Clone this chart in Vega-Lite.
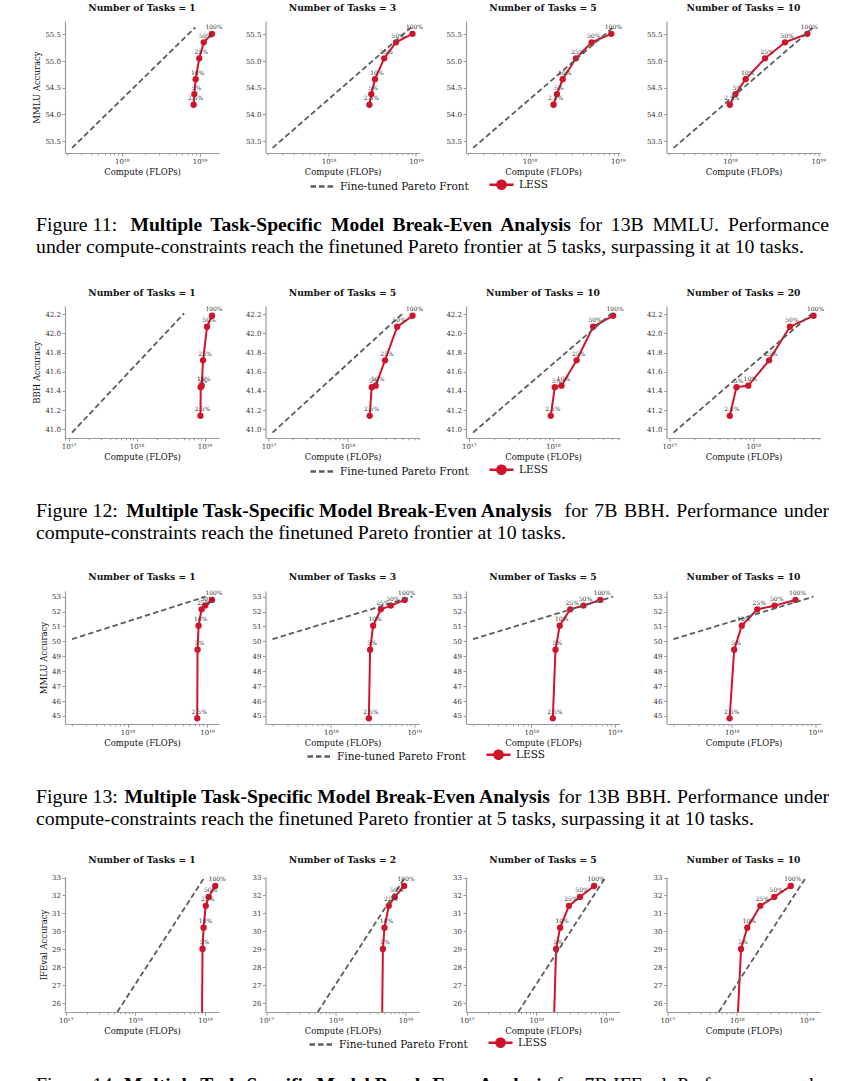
{
"$schema": "https://vega.github.io/schema/vega-lite/v6.json",
"background": "white",
"padding": {"left": 32, "top": 3, "right": 0, "bottom": 0},
"config": {
  "view": {"stroke": null},
  "font": "DejaVu Serif",
  "axis": {"grid": false, "domainColor": "#9a9a9a", "domainWidth": 1.2, "tickColor": "#9a9a9a", "tickWidth": 1, "tickSize": 3, "labelColor": "#333333", "labelFont": "DejaVu Serif", "labelFontSize": 7, "labelPadding": 1.5, "titleFont": "DejaVu Serif", "titleFontSize": 8.5, "titleFontWeight": "normal", "titleColor": "#111111", "titlePadding": 3},
  "title": {"font": "DejaVu Serif", "fontSize": 9.2, "fontWeight": "bold", "color": "#111111", "offset": 8, "baseline": "bottom", "anchor": "middle"}
},
"columns": 4,
"spacing": {"row": 153, "column": 46.5},
"bounds": "flush",
"resolve": {"scale": {"color": "independent", "strokeDash": "independent"}},
"concat": [
  {"width": 154, "height": 132, "title": "Number of Tasks = 1",
   "layer": [
    {"data": {"values": [
      {"series": "LESS", "pct": 2.5, "label": "2.5%", "compute": 8.39e18, "acc": 54.18},
      {"series": "LESS", "pct": 5, "label": "5%", "compute": 8.57e18, "acc": 54.38},
      {"series": "LESS", "pct": 10, "label": "10%", "compute": 8.91e18, "acc": 54.66},
      {"series": "LESS", "pct": 25, "label": "25%", "compute": 9.91e18, "acc": 55.05},
      {"series": "LESS", "pct": 50, "label": "50%", "compute": 1.132e19, "acc": 55.35},
      {"series": "LESS", "pct": 100, "label": "100%", "compute": 1.445e19, "acc": 55.51},
      {"series": "Fine-tuned Pareto Front", "compute": 2.291e17, "acc": 53.37},
      {"series": "Fine-tuned Pareto Front", "compute": 8.81e18, "acc": 55.63}]},
     "encoding": {
      "x": {"field": "compute", "type": "quantitative", "scale": {"type": "log", "domain": [1.862e17, 1.778e19], "nice": false}, "axis": {"title": "Compute (FLOPs)", "values": [2e17,3e17,4e17,5e17,6e17,7e17,8e17,9e17,1e18,2e18,3e18,4e18,5e18,6e18,7e18,8e18,9e18,1e19], "labelExpr": "datum.value == 1e17 ? '10¹⁷' : datum.value == 1e18 ? '10¹⁸' : datum.value == 1e19 ? '10¹⁹' : ''", "labelOverlap": false, "labelFlush": false, "tickSize": {"condition": {"test": "datum.value == 1e17 || datum.value == 1e18 || datum.value == 1e19", "value": 3.2}, "value": 1.8}}},
      "y": {"field": "acc", "type": "quantitative", "scale": {"domain": [53.275, 55.75], "nice": false, "zero": false}, "axis": {"title": "MMLU Accuracy", "values": [53.5, 54, 54.5, 55, 55.5], "format": ".1f"}}
     },
     "layer": [
      {"transform": [{"filter": "datum.series == 'LESS'"}], "mark": {"type": "line", "strokeWidth": 2, "clip": true}, "encoding": {"order": {"field": "pct", "type": "quantitative"}, "color": {"field": "series", "type": "nominal", "scale": {"domain": ["Fine-tuned Pareto Front", "LESS"], "range": ["#5c5c5c", "#d0142b"]}, "legend": {"orient": "none", "legendX": 244, "legendY": 150, "direction": "horizontal", "title": null, "labelFont": "DejaVu Serif", "labelFontSize": 10.5, "labelColor": "#111111", "symbolSize": 576, "symbolStrokeWidth": 2.5, "columnPadding": 15, "labelOffset": 4, "padding": 0, "encode": {"symbols": {"update": {"shape": {"signal": "datum.value == 'LESS' ? 'M-1,0H1M0.34,0A0.34,0.34,0,1,1,-0.34,0A0.34,0.34,0,1,1,0.34,0Z' : 'M-1,0H1'"}, "fill": {"signal": "datum.value == 'LESS' ? '#d0142b' : 'transparent'"}, "stroke": {"signal": "datum.value == 'LESS' ? '#d0142b' : '#222222'"}, "strokeDash": {"signal": "datum.value == 'LESS' ? [1,0] : [10,4]"}}}}}}, "strokeDash": {"field": "series", "type": "nominal", "scale": {"domain": ["Fine-tuned Pareto Front", "LESS"], "range": [[5.5, 3], [1, 0]]}, "legend": null}}},
      {"transform": [{"filter": "datum.series == 'LESS'"}], "mark": {"type": "circle", "size": 40, "opacity": 1, "color": "#d0142b", "clip": true}},
      {"transform": [{"filter": "datum.series != 'LESS'"}], "mark": {"type": "line", "strokeWidth": 1.8, "clip": true}, "encoding": {"color": {"field": "series", "type": "nominal", "scale": {"domain": ["Fine-tuned Pareto Front", "LESS"], "range": ["#5c5c5c", "#d0142b"]}}, "strokeDash": {"field": "series", "type": "nominal", "scale": {"domain": ["Fine-tuned Pareto Front", "LESS"], "range": [[5.5, 3], [1, 0]]}, "legend": null}}},
      {"transform": [{"filter": "datum.series == 'LESS'"}], "mark": {"type": "text", "fontSize": 6, "font": "DejaVu Serif", "color": "#333333", "dx": 2, "dy": -6.5}, "encoding": {"text": {"field": "label"}}}
     ]},
    {"data": {"values": [
      {"line": 1, "seg": "a", "text": "Figure 11:"},
      {"line": 1, "seg": "b1", "text": "Multiple"},
      {"line": 1, "seg": "b2", "text": "Task-Specific"},
      {"line": 1, "seg": "b3", "text": "Model"},
      {"line": 1, "seg": "b4", "text": "Break-Even"},
      {"line": 1, "seg": "b5", "text": "Analysis"},
      {"line": 1, "seg": "c1", "text": "for"},
      {"line": 1, "seg": "c2", "text": "13B"},
      {"line": 1, "seg": "c3", "text": "MMLU."},
      {"line": 1, "seg": "c4", "text": "Performance"},
      {"line": 2, "seg": "a", "text": "under compute-constraints reach the finetuned Pareto frontier at 5 tasks, surpassing it at 10 tasks."}]},
     "encoding": {"y": {"field": "line", "type": "ordinal", "axis": null, "scale": {"domain": [1, 2], "range": [204, 226], "padding": 0}}, "text": {"field": "text"}},
     "layer": [
      {"transform": [{"filter": "datum.seg == 'a'"}], "mark": {"type": "text", "align": "left", "baseline": "middle", "font": "Liberation Serif", "fontSize": 19.8, "color": "#000000", "dx": -106}},
      {"transform": [{"filter": "datum.seg == 'b1'"}], "mark": {"type": "text", "align": "left", "baseline": "middle", "font": "Liberation Serif", "fontSize": 19.6, "fontWeight": "bold", "color": "#000000", "dx": -11.6}},
      {"transform": [{"filter": "datum.seg == 'b2'"}], "mark": {"type": "text", "align": "left", "baseline": "middle", "font": "Liberation Serif", "fontSize": 19.6, "fontWeight": "bold", "color": "#000000", "dx": 68.2}},
      {"transform": [{"filter": "datum.seg == 'b3'"}], "mark": {"type": "text", "align": "left", "baseline": "middle", "font": "Liberation Serif", "fontSize": 19.6, "fontWeight": "bold", "color": "#000000", "dx": 188.9}},
      {"transform": [{"filter": "datum.seg == 'b4'"}], "mark": {"type": "text", "align": "left", "baseline": "middle", "font": "Liberation Serif", "fontSize": 19.6, "fontWeight": "bold", "color": "#000000", "dx": 250.4}},
      {"transform": [{"filter": "datum.seg == 'b5'"}], "mark": {"type": "text", "align": "left", "baseline": "middle", "font": "Liberation Serif", "fontSize": 19.6, "fontWeight": "bold", "color": "#000000", "dx": 358.2}},
      {"transform": [{"filter": "datum.seg == 'c1'"}], "mark": {"type": "text", "align": "left", "baseline": "middle", "font": "Liberation Serif", "fontSize": 19.8, "color": "#000000", "dx": 437}},
      {"transform": [{"filter": "datum.seg == 'c2'"}], "mark": {"type": "text", "align": "left", "baseline": "middle", "font": "Liberation Serif", "fontSize": 19.8, "color": "#000000", "dx": 468.8}},
      {"transform": [{"filter": "datum.seg == 'c3'"}], "mark": {"type": "text", "align": "left", "baseline": "middle", "font": "Liberation Serif", "fontSize": 19.8, "color": "#000000", "dx": 510.5}},
      {"transform": [{"filter": "datum.seg == 'c4'"}], "mark": {"type": "text", "align": "right", "baseline": "middle", "font": "Liberation Serif", "fontSize": 19.8, "color": "#000000", "dx": 687}}
     ]}
   ],
   "resolve": {"scale": {"y": "independent"}, "axis": {"y": "independent"}}},
  {"width": 154, "height": 132, "title": "Number of Tasks = 3",
   "data": {"values": [
    {"series": "LESS", "pct": 2.5, "label": "2.5%", "compute": 2.94e18, "acc": 54.18},
    {"series": "LESS", "pct": 5, "label": "5%", "compute": 3.09e18, "acc": 54.38},
    {"series": "LESS", "pct": 10, "label": "10%", "compute": 3.40e18, "acc": 54.66},
    {"series": "LESS", "pct": 25, "label": "25%", "compute": 4.34e18, "acc": 55.05},
    {"series": "LESS", "pct": 50, "label": "50%", "compute": 5.92e18, "acc": 55.35},
    {"series": "LESS", "pct": 100, "label": "100%", "compute": 9.14e18, "acc": 55.51},
    {"series": "Fine-tuned Pareto Front", "compute": 2.291e17, "acc": 53.37},
    {"series": "Fine-tuned Pareto Front", "compute": 8.81e18, "acc": 55.63}]},
   "encoding": {
    "x": {"field": "compute", "type": "quantitative", "scale": {"type": "log", "domain": [1.905e17, 1.099e19], "nice": false}, "axis": {"title": "Compute (FLOPs)", "values": [2e17,3e17,4e17,5e17,6e17,7e17,8e17,9e17,1e18,2e18,3e18,4e18,5e18,6e18,7e18,8e18,9e18,1e19], "labelExpr": "datum.value == 1e17 ? '10¹⁷' : datum.value == 1e18 ? '10¹⁸' : datum.value == 1e19 ? '10¹⁹' : ''", "labelOverlap": false, "labelFlush": false, "tickSize": {"condition": {"test": "datum.value == 1e17 || datum.value == 1e18 || datum.value == 1e19", "value": 3.2}, "value": 1.8}}},
    "y": {"field": "acc", "type": "quantitative", "scale": {"domain": [53.275, 55.75], "nice": false, "zero": false}, "axis": {"title": null, "values": [53.5, 54, 54.5, 55, 55.5], "format": ".1f"}}
   },
   "layer": [
    {"transform": [{"filter": "datum.series == 'LESS'"}], "mark": {"type": "line", "strokeWidth": 2, "clip": true}, "encoding": {"order": {"field": "pct", "type": "quantitative"}, "color": {"field": "series", "type": "nominal", "scale": {"domain": ["Fine-tuned Pareto Front", "LESS"], "range": ["#5c5c5c", "#d0142b"]}, "legend": null}, "strokeDash": {"field": "series", "type": "nominal", "scale": {"domain": ["Fine-tuned Pareto Front", "LESS"], "range": [[5.5, 3], [1, 0]]}, "legend": null}}},
    {"transform": [{"filter": "datum.series == 'LESS'"}], "mark": {"type": "circle", "size": 40, "opacity": 1, "color": "#d0142b", "clip": true}},
    {"transform": [{"filter": "datum.series != 'LESS'"}], "mark": {"type": "line", "strokeWidth": 1.8, "clip": true}, "encoding": {"color": {"field": "series", "type": "nominal", "scale": {"domain": ["Fine-tuned Pareto Front", "LESS"], "range": ["#5c5c5c", "#d0142b"]}, "legend": null}, "strokeDash": {"field": "series", "type": "nominal", "scale": {"domain": ["Fine-tuned Pareto Front", "LESS"], "range": [[5.5, 3], [1, 0]]}, "legend": null}}},
    {"transform": [{"filter": "datum.series == 'LESS'"}], "mark": {"type": "text", "fontSize": 6, "font": "DejaVu Serif", "color": "#333333", "dx": 2, "dy": -6.5}, "encoding": {"text": {"field": "label"}}}
   ]},
  {"width": 154, "height": 132, "title": "Number of Tasks = 5",
   "data": {"values": [
    {"series": "LESS", "pct": 2.5, "label": "2.5%", "compute": 1.87e18, "acc": 54.18},
    {"series": "LESS", "pct": 5, "label": "5%", "compute": 2.04e18, "acc": 54.38},
    {"series": "LESS", "pct": 10, "label": "10%", "compute": 2.37e18, "acc": 54.66},
    {"series": "LESS", "pct": 25, "label": "25%", "compute": 3.35e18, "acc": 55.05},
    {"series": "LESS", "pct": 50, "label": "50%", "compute": 5.05e18, "acc": 55.35},
    {"series": "LESS", "pct": 100, "label": "100%", "compute": 8.43e18, "acc": 55.51},
    {"series": "Fine-tuned Pareto Front", "compute": 2.291e17, "acc": 53.37},
    {"series": "Fine-tuned Pareto Front", "compute": 8.81e18, "acc": 55.63}]},
   "encoding": {
    "x": {"field": "compute", "type": "quantitative", "scale": {"type": "log", "domain": [1.905e17, 1.057e19], "nice": false}, "axis": {"title": "Compute (FLOPs)", "values": [2e17,3e17,4e17,5e17,6e17,7e17,8e17,9e17,1e18,2e18,3e18,4e18,5e18,6e18,7e18,8e18,9e18,1e19], "labelExpr": "datum.value == 1e17 ? '10¹⁷' : datum.value == 1e18 ? '10¹⁸' : datum.value == 1e19 ? '10¹⁹' : ''", "labelOverlap": false, "labelFlush": false, "tickSize": {"condition": {"test": "datum.value == 1e17 || datum.value == 1e18 || datum.value == 1e19", "value": 3.2}, "value": 1.8}}},
    "y": {"field": "acc", "type": "quantitative", "scale": {"domain": [53.275, 55.75], "nice": false, "zero": false}, "axis": {"title": null, "values": [53.5, 54, 54.5, 55, 55.5], "format": ".1f"}}
   },
   "layer": [
    {"transform": [{"filter": "datum.series == 'LESS'"}], "mark": {"type": "line", "strokeWidth": 2, "clip": true}, "encoding": {"order": {"field": "pct", "type": "quantitative"}, "color": {"field": "series", "type": "nominal", "scale": {"domain": ["Fine-tuned Pareto Front", "LESS"], "range": ["#5c5c5c", "#d0142b"]}, "legend": null}, "strokeDash": {"field": "series", "type": "nominal", "scale": {"domain": ["Fine-tuned Pareto Front", "LESS"], "range": [[5.5, 3], [1, 0]]}, "legend": null}}},
    {"transform": [{"filter": "datum.series == 'LESS'"}], "mark": {"type": "circle", "size": 40, "opacity": 1, "color": "#d0142b", "clip": true}},
    {"transform": [{"filter": "datum.series != 'LESS'"}], "mark": {"type": "line", "strokeWidth": 1.8, "clip": true}, "encoding": {"color": {"field": "series", "type": "nominal", "scale": {"domain": ["Fine-tuned Pareto Front", "LESS"], "range": ["#5c5c5c", "#d0142b"]}, "legend": null}, "strokeDash": {"field": "series", "type": "nominal", "scale": {"domain": ["Fine-tuned Pareto Front", "LESS"], "range": [[5.5, 3], [1, 0]]}, "legend": null}}},
    {"transform": [{"filter": "datum.series == 'LESS'"}], "mark": {"type": "text", "fontSize": 6, "font": "DejaVu Serif", "color": "#333333", "dx": 2, "dy": -6.5}, "encoding": {"text": {"field": "label"}}}
   ]},
  {"width": 154, "height": 132, "title": "Number of Tasks = 10",
   "data": {"values": [
    {"series": "LESS", "pct": 2.5, "label": "2.5%", "compute": 9.93e17, "acc": 54.18},
    {"series": "LESS", "pct": 5, "label": "5%", "compute": 1.15e18, "acc": 54.38},
    {"series": "LESS", "pct": 10, "label": "10%", "compute": 1.50e18, "acc": 54.66},
    {"series": "LESS", "pct": 25, "label": "25%", "compute": 2.49e18, "acc": 55.05},
    {"series": "LESS", "pct": 50, "label": "50%", "compute": 4.19e18, "acc": 55.35},
    {"series": "LESS", "pct": 100, "label": "100%", "compute": 7.50e18, "acc": 55.51},
    {"series": "Fine-tuned Pareto Front", "compute": 2.291e17, "acc": 53.37},
    {"series": "Fine-tuned Pareto Front", "compute": 8.81e18, "acc": 55.63}]},
   "encoding": {
    "x": {"field": "compute", "type": "quantitative", "scale": {"type": "log", "domain": [1.905e17, 1.057e19], "nice": false}, "axis": {"title": "Compute (FLOPs)", "values": [2e17,3e17,4e17,5e17,6e17,7e17,8e17,9e17,1e18,2e18,3e18,4e18,5e18,6e18,7e18,8e18,9e18,1e19], "labelExpr": "datum.value == 1e17 ? '10¹⁷' : datum.value == 1e18 ? '10¹⁸' : datum.value == 1e19 ? '10¹⁹' : ''", "labelOverlap": false, "labelFlush": false, "tickSize": {"condition": {"test": "datum.value == 1e17 || datum.value == 1e18 || datum.value == 1e19", "value": 3.2}, "value": 1.8}}},
    "y": {"field": "acc", "type": "quantitative", "scale": {"domain": [53.275, 55.75], "nice": false, "zero": false}, "axis": {"title": null, "values": [53.5, 54, 54.5, 55, 55.5], "format": ".1f"}}
   },
   "layer": [
    {"transform": [{"filter": "datum.series == 'LESS'"}], "mark": {"type": "line", "strokeWidth": 2, "clip": true}, "encoding": {"order": {"field": "pct", "type": "quantitative"}, "color": {"field": "series", "type": "nominal", "scale": {"domain": ["Fine-tuned Pareto Front", "LESS"], "range": ["#5c5c5c", "#d0142b"]}, "legend": null}, "strokeDash": {"field": "series", "type": "nominal", "scale": {"domain": ["Fine-tuned Pareto Front", "LESS"], "range": [[5.5, 3], [1, 0]]}, "legend": null}}},
    {"transform": [{"filter": "datum.series == 'LESS'"}], "mark": {"type": "circle", "size": 40, "opacity": 1, "color": "#d0142b", "clip": true}},
    {"transform": [{"filter": "datum.series != 'LESS'"}], "mark": {"type": "line", "strokeWidth": 1.8, "clip": true}, "encoding": {"color": {"field": "series", "type": "nominal", "scale": {"domain": ["Fine-tuned Pareto Front", "LESS"], "range": ["#5c5c5c", "#d0142b"]}, "legend": null}, "strokeDash": {"field": "series", "type": "nominal", "scale": {"domain": ["Fine-tuned Pareto Front", "LESS"], "range": [[5.5, 3], [1, 0]]}, "legend": null}}},
    {"transform": [{"filter": "datum.series == 'LESS'"}], "mark": {"type": "text", "fontSize": 6, "font": "DejaVu Serif", "color": "#333333", "dx": 2, "dy": -6.5}, "encoding": {"text": {"field": "label"}}}
   ]},

  {"width": 154, "height": 132, "title": "Number of Tasks = 1",
   "layer": [
    {"data": {"values": [
      {"series": "LESS", "pct": 2.5, "label": "2.5%", "compute": 8.71e18, "acc": 41.14},
      {"series": "LESS", "pct": 5, "label": "5%", "compute": 8.79e18, "acc": 41.44},
      {"series": "LESS", "pct": 10, "label": "10%", "compute": 9.10e18, "acc": 41.455},
      {"series": "LESS", "pct": 25, "label": "25%", "compute": 9.51e18, "acc": 41.72},
      {"series": "LESS", "pct": 50, "label": "50%", "compute": 1.089e19, "acc": 42.07},
      {"series": "LESS", "pct": 100, "label": "100%", "compute": 1.288e19, "acc": 42.185},
      {"series": "Fine-tuned Pareto Front", "compute": 1.122e17, "acc": 40.965},
      {"series": "Fine-tuned Pareto Front", "compute": 5.012e18, "acc": 42.21}]},
     "encoding": {
      "x": {"field": "compute", "type": "quantitative", "scale": {"type": "log", "domain": [8.85e16, 1.633e19], "nice": false}, "axis": {"title": "Compute (FLOPs)", "values": [9e16,1e17,2e17,3e17,4e17,5e17,6e17,7e17,8e17,9e17,1e18,2e18,3e18,4e18,5e18,6e18,7e18,8e18,9e18,1e19], "labelExpr": "datum.value == 1e17 ? '10¹⁷' : datum.value == 1e18 ? '10¹⁸' : datum.value == 1e19 ? '10¹⁹' : ''", "labelOverlap": false, "labelFlush": false, "tickSize": {"condition": {"test": "datum.value == 1e17 || datum.value == 1e18 || datum.value == 1e19", "value": 3.2}, "value": 1.8}}},
      "y": {"field": "acc", "type": "quantitative", "scale": {"domain": [40.909, 42.287], "nice": false, "zero": false}, "axis": {"title": "BBH Accuracy", "values": [41, 41.2, 41.4, 41.6, 41.8, 42, 42.2], "format": ".1f"}}
     },
     "layer": [
      {"transform": [{"filter": "datum.series == 'LESS'"}], "mark": {"type": "line", "strokeWidth": 2, "clip": true}, "encoding": {"order": {"field": "pct", "type": "quantitative"}, "color": {"field": "series", "type": "nominal", "scale": {"domain": ["Fine-tuned Pareto Front", "LESS"], "range": ["#5c5c5c", "#d0142b"]}, "legend": {"orient": "none", "legendX": 244, "legendY": 150, "direction": "horizontal", "title": null, "labelFont": "DejaVu Serif", "labelFontSize": 10.5, "labelColor": "#111111", "symbolSize": 576, "symbolStrokeWidth": 2.5, "columnPadding": 15, "labelOffset": 4, "padding": 0, "encode": {"symbols": {"update": {"shape": {"signal": "datum.value == 'LESS' ? 'M-1,0H1M0.34,0A0.34,0.34,0,1,1,-0.34,0A0.34,0.34,0,1,1,0.34,0Z' : 'M-1,0H1'"}, "fill": {"signal": "datum.value == 'LESS' ? '#d0142b' : 'transparent'"}, "stroke": {"signal": "datum.value == 'LESS' ? '#d0142b' : '#222222'"}, "strokeDash": {"signal": "datum.value == 'LESS' ? [1,0] : [10,4]"}}}}}}, "strokeDash": {"field": "series", "type": "nominal", "scale": {"domain": ["Fine-tuned Pareto Front", "LESS"], "range": [[5.5, 3], [1, 0]]}, "legend": null}}},
      {"transform": [{"filter": "datum.series == 'LESS'"}], "mark": {"type": "circle", "size": 40, "opacity": 1, "color": "#d0142b", "clip": true}},
      {"transform": [{"filter": "datum.series != 'LESS'"}], "mark": {"type": "line", "strokeWidth": 1.8, "clip": true}, "encoding": {"color": {"field": "series", "type": "nominal", "scale": {"domain": ["Fine-tuned Pareto Front", "LESS"], "range": ["#5c5c5c", "#d0142b"]}}, "strokeDash": {"field": "series", "type": "nominal", "scale": {"domain": ["Fine-tuned Pareto Front", "LESS"], "range": [[5.5, 3], [1, 0]]}, "legend": null}}},
      {"transform": [{"filter": "datum.series == 'LESS'"}], "mark": {"type": "text", "fontSize": 6, "font": "DejaVu Serif", "color": "#333333", "dx": 2, "dy": -6.5}, "encoding": {"text": {"field": "label"}}}
     ]},
    {"data": {"values": [
      {"line": 1, "seg": "a", "text": "Figure 12:"},
      {"line": 1, "seg": "b", "text": "Multiple Task-Specific Model Break-Even Analysis"},
      {"line": 1, "seg": "c1", "text": "for"},
      {"line": 1, "seg": "c2", "text": "7B"},
      {"line": 1, "seg": "c3", "text": "BBH."},
      {"line": 1, "seg": "c4", "text": "Performance"},
      {"line": 1, "seg": "c5", "text": "under"},
      {"line": 2, "seg": "a", "text": "compute-constraints reach the finetuned Pareto frontier at 10 tasks."}]},
     "encoding": {"y": {"field": "line", "type": "ordinal", "axis": null, "scale": {"domain": [1, 2], "range": [205, 227], "padding": 0}}, "text": {"field": "text"}},
     "layer": [
      {"transform": [{"filter": "datum.seg == 'a'"}], "mark": {"type": "text", "align": "left", "baseline": "middle", "font": "Liberation Serif", "fontSize": 19.8, "color": "#000000", "dx": -106}},
      {"transform": [{"filter": "datum.seg == 'b'"}], "mark": {"type": "text", "align": "left", "baseline": "middle", "font": "Liberation Serif", "fontSize": 19.6, "fontWeight": "bold", "color": "#000000", "dx": -15.7}},
      {"transform": [{"filter": "datum.seg == 'c1'"}], "mark": {"type": "text", "align": "left", "baseline": "middle", "font": "Liberation Serif", "fontSize": 19.8, "color": "#000000", "dx": 422.6}},
      {"transform": [{"filter": "datum.seg == 'c2'"}], "mark": {"type": "text", "align": "left", "baseline": "middle", "font": "Liberation Serif", "fontSize": 19.8, "color": "#000000", "dx": 452.3}},
      {"transform": [{"filter": "datum.seg == 'c3'"}], "mark": {"type": "text", "align": "left", "baseline": "middle", "font": "Liberation Serif", "fontSize": 19.8, "color": "#000000", "dx": 482}},
      {"transform": [{"filter": "datum.seg == 'c4'"}], "mark": {"type": "text", "align": "left", "baseline": "middle", "font": "Liberation Serif", "fontSize": 19.8, "color": "#000000", "dx": 534.3}},
      {"transform": [{"filter": "datum.seg == 'c5'"}], "mark": {"type": "text", "align": "right", "baseline": "middle", "font": "Liberation Serif", "fontSize": 19.8, "color": "#000000", "dx": 687}}
     ]}
   ],
   "resolve": {"scale": {"y": "independent"}, "axis": {"y": "independent"}}},
  {"width": 154, "height": 132, "title": "Number of Tasks = 5",
   "data": {"values": [
    {"series": "LESS", "pct": 2.5, "label": "2.5%", "compute": 1.91e18, "acc": 41.14},
    {"series": "LESS", "pct": 5, "label": "5%", "compute": 2.03e18, "acc": 41.44},
    {"series": "LESS", "pct": 10, "label": "10%", "compute": 2.28e18, "acc": 41.455},
    {"series": "LESS", "pct": 25, "label": "25%", "compute": 2.99e18, "acc": 41.72},
    {"series": "LESS", "pct": 50, "label": "50%", "compute": 4.27e18, "acc": 42.07},
    {"series": "LESS", "pct": 100, "label": "100%", "compute": 6.67e18, "acc": 42.185},
    {"series": "Fine-tuned Pareto Front", "compute": 1.122e17, "acc": 40.965},
    {"series": "Fine-tuned Pareto Front", "compute": 5.012e18, "acc": 42.21}]},
   "encoding": {
    "x": {"field": "compute", "type": "quantitative", "scale": {"type": "log", "domain": [9.14e16, 8.18e18], "nice": false}, "axis": {"title": "Compute (FLOPs)", "values": [1e17,2e17,3e17,4e17,5e17,6e17,7e17,8e17,9e17,1e18,2e18,3e18,4e18,5e18,6e18,7e18,8e18], "labelExpr": "datum.value == 1e17 ? '10¹⁷' : datum.value == 1e18 ? '10¹⁸' : datum.value == 1e19 ? '10¹⁹' : ''", "labelOverlap": false, "labelFlush": false, "tickSize": {"condition": {"test": "datum.value == 1e17 || datum.value == 1e18 || datum.value == 1e19", "value": 3.2}, "value": 1.8}}},
    "y": {"field": "acc", "type": "quantitative", "scale": {"domain": [40.909, 42.287], "nice": false, "zero": false}, "axis": {"title": null, "values": [41, 41.2, 41.4, 41.6, 41.8, 42, 42.2], "format": ".1f"}}
   },
   "layer": [
    {"transform": [{"filter": "datum.series == 'LESS'"}], "mark": {"type": "line", "strokeWidth": 2, "clip": true}, "encoding": {"order": {"field": "pct", "type": "quantitative"}, "color": {"field": "series", "type": "nominal", "scale": {"domain": ["Fine-tuned Pareto Front", "LESS"], "range": ["#5c5c5c", "#d0142b"]}, "legend": null}, "strokeDash": {"field": "series", "type": "nominal", "scale": {"domain": ["Fine-tuned Pareto Front", "LESS"], "range": [[5.5, 3], [1, 0]]}, "legend": null}}},
    {"transform": [{"filter": "datum.series == 'LESS'"}], "mark": {"type": "circle", "size": 40, "opacity": 1, "color": "#d0142b", "clip": true}},
    {"transform": [{"filter": "datum.series != 'LESS'"}], "mark": {"type": "line", "strokeWidth": 1.8, "clip": true}, "encoding": {"color": {"field": "series", "type": "nominal", "scale": {"domain": ["Fine-tuned Pareto Front", "LESS"], "range": ["#5c5c5c", "#d0142b"]}, "legend": null}, "strokeDash": {"field": "series", "type": "nominal", "scale": {"domain": ["Fine-tuned Pareto Front", "LESS"], "range": [[5.5, 3], [1, 0]]}, "legend": null}}},
    {"transform": [{"filter": "datum.series == 'LESS'"}], "mark": {"type": "text", "fontSize": 6, "font": "DejaVu Serif", "color": "#333333", "dx": 2, "dy": -6.5}, "encoding": {"text": {"field": "label"}}}
   ]},
  {"width": 154, "height": 132, "title": "Number of Tasks = 10",
   "data": {"values": [
    {"series": "LESS", "pct": 2.5, "label": "2.5%", "compute": 9.46e17, "acc": 41.14},
    {"series": "LESS", "pct": 5, "label": "5%", "compute": 1.057e18, "acc": 41.44},
    {"series": "LESS", "pct": 10, "label": "10%", "compute": 1.27e18, "acc": 41.455},
    {"series": "LESS", "pct": 25, "label": "25%", "compute": 1.92e18, "acc": 41.72},
    {"series": "LESS", "pct": 50, "label": "50%", "compute": 3.02e18, "acc": 42.07},
    {"series": "LESS", "pct": 100, "label": "100%", "compute": 5.22e18, "acc": 42.185},
    {"series": "Fine-tuned Pareto Front", "compute": 1.122e17, "acc": 40.965},
    {"series": "Fine-tuned Pareto Front", "compute": 5.012e18, "acc": 42.21}]},
   "encoding": {
    "x": {"field": "compute", "type": "quantitative", "scale": {"type": "log", "domain": [9.27e16, 6.31e18], "nice": false}, "axis": {"title": "Compute (FLOPs)", "values": [1e17,2e17,3e17,4e17,5e17,6e17,7e17,8e17,9e17,1e18,2e18,3e18,4e18,5e18,6e18], "labelExpr": "datum.value == 1e17 ? '10¹⁷' : datum.value == 1e18 ? '10¹⁸' : datum.value == 1e19 ? '10¹⁹' : ''", "labelOverlap": false, "labelFlush": false, "tickSize": {"condition": {"test": "datum.value == 1e17 || datum.value == 1e18 || datum.value == 1e19", "value": 3.2}, "value": 1.8}}},
    "y": {"field": "acc", "type": "quantitative", "scale": {"domain": [40.909, 42.287], "nice": false, "zero": false}, "axis": {"title": null, "values": [41, 41.2, 41.4, 41.6, 41.8, 42, 42.2], "format": ".1f"}}
   },
   "layer": [
    {"transform": [{"filter": "datum.series == 'LESS'"}], "mark": {"type": "line", "strokeWidth": 2, "clip": true}, "encoding": {"order": {"field": "pct", "type": "quantitative"}, "color": {"field": "series", "type": "nominal", "scale": {"domain": ["Fine-tuned Pareto Front", "LESS"], "range": ["#5c5c5c", "#d0142b"]}, "legend": null}, "strokeDash": {"field": "series", "type": "nominal", "scale": {"domain": ["Fine-tuned Pareto Front", "LESS"], "range": [[5.5, 3], [1, 0]]}, "legend": null}}},
    {"transform": [{"filter": "datum.series == 'LESS'"}], "mark": {"type": "circle", "size": 40, "opacity": 1, "color": "#d0142b", "clip": true}},
    {"transform": [{"filter": "datum.series != 'LESS'"}], "mark": {"type": "line", "strokeWidth": 1.8, "clip": true}, "encoding": {"color": {"field": "series", "type": "nominal", "scale": {"domain": ["Fine-tuned Pareto Front", "LESS"], "range": ["#5c5c5c", "#d0142b"]}, "legend": null}, "strokeDash": {"field": "series", "type": "nominal", "scale": {"domain": ["Fine-tuned Pareto Front", "LESS"], "range": [[5.5, 3], [1, 0]]}, "legend": null}}},
    {"transform": [{"filter": "datum.series == 'LESS'"}], "mark": {"type": "text", "fontSize": 6, "font": "DejaVu Serif", "color": "#333333", "dx": 2, "dy": -6.5}, "encoding": {"text": {"field": "label"}}}
   ]},
  {"width": 154, "height": 132, "title": "Number of Tasks = 20",
   "data": {"values": [
    {"series": "LESS", "pct": 2.5, "label": "2.5%", "compute": 5.25e17, "acc": 41.14},
    {"series": "LESS", "pct": 5, "label": "5%", "compute": 6.31e17, "acc": 41.44},
    {"series": "LESS", "pct": 10, "label": "10%", "compute": 8.71e17, "acc": 41.455},
    {"series": "LESS", "pct": 25, "label": "25%", "compute": 1.54e18, "acc": 41.72},
    {"series": "LESS", "pct": 50, "label": "50%", "compute": 2.73e18, "acc": 42.07},
    {"series": "LESS", "pct": 100, "label": "100%", "compute": 5.21e18, "acc": 42.185},
    {"series": "Fine-tuned Pareto Front", "compute": 1.122e17, "acc": 40.965},
    {"series": "Fine-tuned Pareto Front", "compute": 5.012e18, "acc": 42.21}]},
   "encoding": {
    "x": {"field": "compute", "type": "quantitative", "scale": {"type": "log", "domain": [9.27e16, 6.31e18], "nice": false}, "axis": {"title": "Compute (FLOPs)", "values": [1e17,2e17,3e17,4e17,5e17,6e17,7e17,8e17,9e17,1e18,2e18,3e18,4e18,5e18,6e18], "labelExpr": "datum.value == 1e17 ? '10¹⁷' : datum.value == 1e18 ? '10¹⁸' : datum.value == 1e19 ? '10¹⁹' : ''", "labelOverlap": false, "labelFlush": false, "tickSize": {"condition": {"test": "datum.value == 1e17 || datum.value == 1e18 || datum.value == 1e19", "value": 3.2}, "value": 1.8}}},
    "y": {"field": "acc", "type": "quantitative", "scale": {"domain": [40.909, 42.287], "nice": false, "zero": false}, "axis": {"title": null, "values": [41, 41.2, 41.4, 41.6, 41.8, 42, 42.2], "format": ".1f"}}
   },
   "layer": [
    {"transform": [{"filter": "datum.series == 'LESS'"}], "mark": {"type": "line", "strokeWidth": 2, "clip": true}, "encoding": {"order": {"field": "pct", "type": "quantitative"}, "color": {"field": "series", "type": "nominal", "scale": {"domain": ["Fine-tuned Pareto Front", "LESS"], "range": ["#5c5c5c", "#d0142b"]}, "legend": null}, "strokeDash": {"field": "series", "type": "nominal", "scale": {"domain": ["Fine-tuned Pareto Front", "LESS"], "range": [[5.5, 3], [1, 0]]}, "legend": null}}},
    {"transform": [{"filter": "datum.series == 'LESS'"}], "mark": {"type": "circle", "size": 40, "opacity": 1, "color": "#d0142b", "clip": true}},
    {"transform": [{"filter": "datum.series != 'LESS'"}], "mark": {"type": "line", "strokeWidth": 1.8, "clip": true}, "encoding": {"color": {"field": "series", "type": "nominal", "scale": {"domain": ["Fine-tuned Pareto Front", "LESS"], "range": ["#5c5c5c", "#d0142b"]}, "legend": null}, "strokeDash": {"field": "series", "type": "nominal", "scale": {"domain": ["Fine-tuned Pareto Front", "LESS"], "range": [[5.5, 3], [1, 0]]}, "legend": null}}},
    {"transform": [{"filter": "datum.series == 'LESS'"}], "mark": {"type": "text", "fontSize": 6, "font": "DejaVu Serif", "color": "#333333", "dx": 2, "dy": -6.5}, "encoding": {"text": {"field": "label"}}}
   ]},

  {"width": 154, "height": 133, "title": "Number of Tasks = 1",
   "layer": [
    {"data": {"values": [
      {"series": "LESS", "pct": 2.5, "label": "2.5%", "compute": 7.52e18, "acc": 44.84},
      {"series": "LESS", "pct": 5, "label": "5%", "compute": 7.59e18, "acc": 49.44},
      {"series": "LESS", "pct": 10, "label": "10%", "compute": 7.82e18, "acc": 51.05},
      {"series": "LESS", "pct": 25, "label": "25%", "compute": 8.53e18, "acc": 52.15},
      {"series": "LESS", "pct": 50, "label": "50%", "compute": 9.48e18, "acc": 52.4},
      {"series": "LESS", "pct": 100, "label": "100%", "compute": 1.153e19, "acc": 52.78},
      {"series": "Fine-tuned Pareto Front", "compute": 1.995e17, "acc": 50.15},
      {"series": "Fine-tuned Pareto Front", "compute": 9.55e18, "acc": 53.0}]},
     "encoding": {
      "x": {"field": "compute", "type": "quantitative", "scale": {"type": "log", "domain": [1.629e17, 1.413e19], "nice": false}, "axis": {"title": "Compute (FLOPs)", "values": [2e17,3e17,4e17,5e17,6e17,7e17,8e17,9e17,1e18,2e18,3e18,4e18,5e18,6e18,7e18,8e18,9e18,1e19], "labelExpr": "datum.value == 1e17 ? '10¹⁷' : datum.value == 1e18 ? '10¹⁸' : datum.value == 1e19 ? '10¹⁹' : ''", "labelOverlap": false, "labelFlush": false, "tickSize": {"condition": {"test": "datum.value == 1e17 || datum.value == 1e18 || datum.value == 1e19", "value": 3.2}, "value": 1.8}}},
      "y": {"field": "acc", "type": "quantitative", "scale": {"domain": [44.46, 53.38], "nice": false, "zero": false}, "axis": {"title": "MMLU Accuracy", "values": [45, 46, 47, 48, 49, 50, 51, 52, 53], "format": "d"}}
     },
     "layer": [
      {"transform": [{"filter": "datum.series == 'LESS'"}], "mark": {"type": "line", "strokeWidth": 2, "clip": true}, "encoding": {"order": {"field": "pct", "type": "quantitative"}, "color": {"field": "series", "type": "nominal", "scale": {"domain": ["Fine-tuned Pareto Front", "LESS"], "range": ["#5c5c5c", "#d0142b"]}, "legend": {"orient": "none", "legendX": 241, "legendY": 150, "direction": "horizontal", "title": null, "labelFont": "DejaVu Serif", "labelFontSize": 10.5, "labelColor": "#111111", "symbolSize": 576, "symbolStrokeWidth": 2.5, "columnPadding": 15, "labelOffset": 4, "padding": 0, "encode": {"symbols": {"update": {"shape": {"signal": "datum.value == 'LESS' ? 'M-1,0H1M0.34,0A0.34,0.34,0,1,1,-0.34,0A0.34,0.34,0,1,1,0.34,0Z' : 'M-1,0H1'"}, "fill": {"signal": "datum.value == 'LESS' ? '#d0142b' : 'transparent'"}, "stroke": {"signal": "datum.value == 'LESS' ? '#d0142b' : '#222222'"}, "strokeDash": {"signal": "datum.value == 'LESS' ? [1,0] : [10,4]"}}}}}}, "strokeDash": {"field": "series", "type": "nominal", "scale": {"domain": ["Fine-tuned Pareto Front", "LESS"], "range": [[5.5, 3], [1, 0]]}, "legend": null}}},
      {"transform": [{"filter": "datum.series == 'LESS'"}], "mark": {"type": "circle", "size": 40, "opacity": 1, "color": "#d0142b", "clip": true}},
      {"transform": [{"filter": "datum.series != 'LESS'"}], "mark": {"type": "line", "strokeWidth": 1.8, "clip": true}, "encoding": {"color": {"field": "series", "type": "nominal", "scale": {"domain": ["Fine-tuned Pareto Front", "LESS"], "range": ["#5c5c5c", "#d0142b"]}}, "strokeDash": {"field": "series", "type": "nominal", "scale": {"domain": ["Fine-tuned Pareto Front", "LESS"], "range": [[5.5, 3], [1, 0]]}, "legend": null}}},
      {"transform": [{"filter": "datum.series == 'LESS'"}], "mark": {"type": "text", "fontSize": 6, "font": "DejaVu Serif", "color": "#333333", "dx": 2, "dy": -6.5}, "encoding": {"text": {"field": "label"}}}
     ]},
    {"data": {"values": [
      {"line": 1, "seg": "a", "text": "Figure 13:"},
      {"line": 1, "seg": "b", "text": "Multiple Task-Specific Model Break-Even Analysis"},
      {"line": 1, "seg": "c1", "text": "for"},
      {"line": 1, "seg": "c2", "text": "13B"},
      {"line": 1, "seg": "c3", "text": "BBH."},
      {"line": 1, "seg": "c4", "text": "Performance"},
      {"line": 1, "seg": "c5", "text": "under"},
      {"line": 2, "seg": "a", "text": "compute-constraints reach the finetuned Pareto frontier at 5 tasks, surpassing it at 10 tasks."}]},
     "encoding": {"y": {"field": "line", "type": "ordinal", "axis": null, "scale": {"domain": [1, 2], "range": [206, 228], "padding": 0}}, "text": {"field": "text"}},
     "layer": [
      {"transform": [{"filter": "datum.seg == 'a'"}], "mark": {"type": "text", "align": "left", "baseline": "middle", "font": "Liberation Serif", "fontSize": 19.8, "color": "#000000", "dx": -106}},
      {"transform": [{"filter": "datum.seg == 'b'"}], "mark": {"type": "text", "align": "left", "baseline": "middle", "font": "Liberation Serif", "fontSize": 19.6, "fontWeight": "bold", "color": "#000000", "dx": -17.5}},
      {"transform": [{"filter": "datum.seg == 'c1'"}], "mark": {"type": "text", "align": "left", "baseline": "middle", "font": "Liberation Serif", "fontSize": 19.8, "color": "#000000", "dx": 416.2}},
      {"transform": [{"filter": "datum.seg == 'c2'"}], "mark": {"type": "text", "align": "left", "baseline": "middle", "font": "Liberation Serif", "fontSize": 19.8, "color": "#000000", "dx": 445}},
      {"transform": [{"filter": "datum.seg == 'c3'"}], "mark": {"type": "text", "align": "left", "baseline": "middle", "font": "Liberation Serif", "fontSize": 19.8, "color": "#000000", "dx": 483.7}},
      {"transform": [{"filter": "datum.seg == 'c4'"}], "mark": {"type": "text", "align": "left", "baseline": "middle", "font": "Liberation Serif", "fontSize": 19.8, "color": "#000000", "dx": 535.1}},
      {"transform": [{"filter": "datum.seg == 'c5'"}], "mark": {"type": "text", "align": "right", "baseline": "middle", "font": "Liberation Serif", "fontSize": 19.8, "color": "#000000", "dx": 687}}
     ]}
   ],
   "resolve": {"scale": {"y": "independent"}, "axis": {"y": "independent"}}},
  {"width": 154, "height": 133, "title": "Number of Tasks = 3",
   "data": {"values": [
    {"series": "LESS", "pct": 2.5, "label": "2.5%", "compute": 2.86e18, "acc": 44.84},
    {"series": "LESS", "pct": 5, "label": "5%", "compute": 2.96e18, "acc": 49.44},
    {"series": "LESS", "pct": 10, "label": "10%", "compute": 3.22e18, "acc": 51.05},
    {"series": "LESS", "pct": 25, "label": "25%", "compute": 3.98e18, "acc": 52.15},
    {"series": "LESS", "pct": 50, "label": "50%", "compute": 5.25e18, "acc": 52.4},
    {"series": "LESS", "pct": 100, "label": "100%", "compute": 7.69e18, "acc": 52.78},
    {"series": "Fine-tuned Pareto Front", "compute": 1.995e17, "acc": 50.15},
    {"series": "Fine-tuned Pareto Front", "compute": 9.55e18, "acc": 53.0}]},
   "encoding": {
    "x": {"field": "compute", "type": "quantitative", "scale": {"type": "log", "domain": [1.644e17, 1.159e19], "nice": false}, "axis": {"title": "Compute (FLOPs)", "values": [2e17,3e17,4e17,5e17,6e17,7e17,8e17,9e17,1e18,2e18,3e18,4e18,5e18,6e18,7e18,8e18,9e18,1e19], "labelExpr": "datum.value == 1e17 ? '10¹⁷' : datum.value == 1e18 ? '10¹⁸' : datum.value == 1e19 ? '10¹⁹' : ''", "labelOverlap": false, "labelFlush": false, "tickSize": {"condition": {"test": "datum.value == 1e17 || datum.value == 1e18 || datum.value == 1e19", "value": 3.2}, "value": 1.8}}},
    "y": {"field": "acc", "type": "quantitative", "scale": {"domain": [44.46, 53.38], "nice": false, "zero": false}, "axis": {"title": null, "values": [45, 46, 47, 48, 49, 50, 51, 52, 53], "format": "d"}}
   },
   "layer": [
    {"transform": [{"filter": "datum.series == 'LESS'"}], "mark": {"type": "line", "strokeWidth": 2, "clip": true}, "encoding": {"order": {"field": "pct", "type": "quantitative"}, "color": {"field": "series", "type": "nominal", "scale": {"domain": ["Fine-tuned Pareto Front", "LESS"], "range": ["#5c5c5c", "#d0142b"]}, "legend": null}, "strokeDash": {"field": "series", "type": "nominal", "scale": {"domain": ["Fine-tuned Pareto Front", "LESS"], "range": [[5.5, 3], [1, 0]]}, "legend": null}}},
    {"transform": [{"filter": "datum.series == 'LESS'"}], "mark": {"type": "circle", "size": 40, "opacity": 1, "color": "#d0142b", "clip": true}},
    {"transform": [{"filter": "datum.series != 'LESS'"}], "mark": {"type": "line", "strokeWidth": 1.8, "clip": true}, "encoding": {"color": {"field": "series", "type": "nominal", "scale": {"domain": ["Fine-tuned Pareto Front", "LESS"], "range": ["#5c5c5c", "#d0142b"]}, "legend": null}, "strokeDash": {"field": "series", "type": "nominal", "scale": {"domain": ["Fine-tuned Pareto Front", "LESS"], "range": [[5.5, 3], [1, 0]]}, "legend": null}}},
    {"transform": [{"filter": "datum.series == 'LESS'"}], "mark": {"type": "text", "fontSize": 6, "font": "DejaVu Serif", "color": "#333333", "dx": 2, "dy": -6.5}, "encoding": {"text": {"field": "label"}}}
   ]},
  {"width": 154, "height": 133, "title": "Number of Tasks = 5",
   "data": {"values": [
    {"series": "LESS", "pct": 2.5, "label": "2.5%", "compute": 1.81e18, "acc": 44.84},
    {"series": "LESS", "pct": 5, "label": "5%", "compute": 1.95e18, "acc": 49.44},
    {"series": "LESS", "pct": 10, "label": "10%", "compute": 2.19e18, "acc": 51.05},
    {"series": "LESS", "pct": 25, "label": "25%", "compute": 2.93e18, "acc": 52.15},
    {"series": "LESS", "pct": 50, "label": "50%", "compute": 4.22e18, "acc": 52.4},
    {"series": "LESS", "pct": 100, "label": "100%", "compute": 6.71e18, "acc": 52.78},
    {"series": "Fine-tuned Pareto Front", "compute": 1.995e17, "acc": 50.15},
    {"series": "Fine-tuned Pareto Front", "compute": 9.55e18, "acc": 53.0}]},
   "encoding": {
    "x": {"field": "compute", "type": "quantitative", "scale": {"type": "log", "domain": [1.644e17, 1.159e19], "nice": false}, "axis": {"title": "Compute (FLOPs)", "values": [2e17,3e17,4e17,5e17,6e17,7e17,8e17,9e17,1e18,2e18,3e18,4e18,5e18,6e18,7e18,8e18,9e18,1e19], "labelExpr": "datum.value == 1e17 ? '10¹⁷' : datum.value == 1e18 ? '10¹⁸' : datum.value == 1e19 ? '10¹⁹' : ''", "labelOverlap": false, "labelFlush": false, "tickSize": {"condition": {"test": "datum.value == 1e17 || datum.value == 1e18 || datum.value == 1e19", "value": 3.2}, "value": 1.8}}},
    "y": {"field": "acc", "type": "quantitative", "scale": {"domain": [44.46, 53.38], "nice": false, "zero": false}, "axis": {"title": null, "values": [45, 46, 47, 48, 49, 50, 51, 52, 53], "format": "d"}}
   },
   "layer": [
    {"transform": [{"filter": "datum.series == 'LESS'"}], "mark": {"type": "line", "strokeWidth": 2, "clip": true}, "encoding": {"order": {"field": "pct", "type": "quantitative"}, "color": {"field": "series", "type": "nominal", "scale": {"domain": ["Fine-tuned Pareto Front", "LESS"], "range": ["#5c5c5c", "#d0142b"]}, "legend": null}, "strokeDash": {"field": "series", "type": "nominal", "scale": {"domain": ["Fine-tuned Pareto Front", "LESS"], "range": [[5.5, 3], [1, 0]]}, "legend": null}}},
    {"transform": [{"filter": "datum.series == 'LESS'"}], "mark": {"type": "circle", "size": 40, "opacity": 1, "color": "#d0142b", "clip": true}},
    {"transform": [{"filter": "datum.series != 'LESS'"}], "mark": {"type": "line", "strokeWidth": 1.8, "clip": true}, "encoding": {"color": {"field": "series", "type": "nominal", "scale": {"domain": ["Fine-tuned Pareto Front", "LESS"], "range": ["#5c5c5c", "#d0142b"]}, "legend": null}, "strokeDash": {"field": "series", "type": "nominal", "scale": {"domain": ["Fine-tuned Pareto Front", "LESS"], "range": [[5.5, 3], [1, 0]]}, "legend": null}}},
    {"transform": [{"filter": "datum.series == 'LESS'"}], "mark": {"type": "text", "fontSize": 6, "font": "DejaVu Serif", "color": "#333333", "dx": 2, "dy": -6.5}, "encoding": {"text": {"field": "label"}}}
   ]},
  {"width": 154, "height": 133, "title": "Number of Tasks = 10",
   "data": {"values": [
    {"series": "LESS", "pct": 2.5, "label": "2.5%", "compute": 9.40e17, "acc": 44.84},
    {"series": "LESS", "pct": 5, "label": "5%", "compute": 1.067e18, "acc": 49.44},
    {"series": "LESS", "pct": 10, "label": "10%", "compute": 1.315e18, "acc": 51.05},
    {"series": "LESS", "pct": 25, "label": "25%", "compute": 2.02e18, "acc": 52.15},
    {"series": "LESS", "pct": 50, "label": "50%", "compute": 3.27e18, "acc": 52.4},
    {"series": "LESS", "pct": 100, "label": "100%", "compute": 5.81e18, "acc": 52.78},
    {"series": "Fine-tuned Pareto Front", "compute": 1.995e17, "acc": 50.15},
    {"series": "Fine-tuned Pareto Front", "compute": 9.55e18, "acc": 53.0}]},
   "encoding": {
    "x": {"field": "compute", "type": "quantitative", "scale": {"type": "log", "domain": [1.644e17, 1.159e19], "nice": false}, "axis": {"title": "Compute (FLOPs)", "values": [2e17,3e17,4e17,5e17,6e17,7e17,8e17,9e17,1e18,2e18,3e18,4e18,5e18,6e18,7e18,8e18,9e18,1e19], "labelExpr": "datum.value == 1e17 ? '10¹⁷' : datum.value == 1e18 ? '10¹⁸' : datum.value == 1e19 ? '10¹⁹' : ''", "labelOverlap": false, "labelFlush": false, "tickSize": {"condition": {"test": "datum.value == 1e17 || datum.value == 1e18 || datum.value == 1e19", "value": 3.2}, "value": 1.8}}},
    "y": {"field": "acc", "type": "quantitative", "scale": {"domain": [44.46, 53.38], "nice": false, "zero": false}, "axis": {"title": null, "values": [45, 46, 47, 48, 49, 50, 51, 52, 53], "format": "d"}}
   },
   "layer": [
    {"transform": [{"filter": "datum.series == 'LESS'"}], "mark": {"type": "line", "strokeWidth": 2, "clip": true}, "encoding": {"order": {"field": "pct", "type": "quantitative"}, "color": {"field": "series", "type": "nominal", "scale": {"domain": ["Fine-tuned Pareto Front", "LESS"], "range": ["#5c5c5c", "#d0142b"]}, "legend": null}, "strokeDash": {"field": "series", "type": "nominal", "scale": {"domain": ["Fine-tuned Pareto Front", "LESS"], "range": [[5.5, 3], [1, 0]]}, "legend": null}}},
    {"transform": [{"filter": "datum.series == 'LESS'"}], "mark": {"type": "circle", "size": 40, "opacity": 1, "color": "#d0142b", "clip": true}},
    {"transform": [{"filter": "datum.series != 'LESS'"}], "mark": {"type": "line", "strokeWidth": 1.8, "clip": true}, "encoding": {"color": {"field": "series", "type": "nominal", "scale": {"domain": ["Fine-tuned Pareto Front", "LESS"], "range": ["#5c5c5c", "#d0142b"]}, "legend": null}, "strokeDash": {"field": "series", "type": "nominal", "scale": {"domain": ["Fine-tuned Pareto Front", "LESS"], "range": [[5.5, 3], [1, 0]]}, "legend": null}}},
    {"transform": [{"filter": "datum.series == 'LESS'"}], "mark": {"type": "text", "fontSize": 6, "font": "DejaVu Serif", "color": "#333333", "dx": 2, "dy": -6.5}, "encoding": {"text": {"field": "label"}}}
   ]},

  {"width": 154, "height": 135, "title": "Number of Tasks = 1",
   "layer": [
    {"data": {"values": [
      {"series": "LESS", "pct": 2.5, "label": "2.5%", "compute": 9.02e18, "acc": 24.8},
      {"series": "LESS", "pct": 5, "label": "5%", "compute": 9.20e18, "acc": 29.02},
      {"series": "LESS", "pct": 10, "label": "10%", "compute": 9.51e18, "acc": 30.2},
      {"series": "LESS", "pct": 25, "label": "25%", "compute": 1.023e19, "acc": 31.42},
      {"series": "LESS", "pct": 50, "label": "50%", "compute": 1.127e19, "acc": 31.92},
      {"series": "LESS", "pct": 100, "label": "100%", "compute": 1.40e19, "acc": 32.53},
      {"series": "Fine-tuned Pareto Front", "compute": 5.50e17, "acc": 25.5},
      {"series": "Fine-tuned Pareto Front", "compute": 9.77e18, "acc": 33.0}]},
     "encoding": {
      "x": {"field": "compute", "type": "quantitative", "scale": {"type": "log", "domain": [9.77e16, 1.585e19], "nice": false}, "axis": {"title": "Compute (FLOPs)", "values": [1e17,2e17,3e17,4e17,5e17,6e17,7e17,8e17,9e17,1e18,2e18,3e18,4e18,5e18,6e18,7e18,8e18,9e18,1e19], "labelExpr": "datum.value == 1e17 ? '10¹⁷' : datum.value == 1e18 ? '10¹⁸' : datum.value == 1e19 ? '10¹⁹' : ''", "labelOverlap": false, "labelFlush": false, "tickSize": {"condition": {"test": "datum.value == 1e17 || datum.value == 1e18 || datum.value == 1e19", "value": 3.2}, "value": 1.8}}},
      "y": {"field": "acc", "type": "quantitative", "scale": {"domain": [25.5, 33.03], "nice": false, "zero": false}, "axis": {"title": "IFEval Accuracy", "values": [26, 27, 28, 29, 30, 31, 32, 33], "format": "d"}}
     },
     "layer": [
      {"transform": [{"filter": "datum.series == 'LESS'"}], "mark": {"type": "line", "strokeWidth": 2, "clip": true}, "encoding": {"order": {"field": "pct", "type": "quantitative"}, "color": {"field": "series", "type": "nominal", "scale": {"domain": ["Fine-tuned Pareto Front", "LESS"], "range": ["#5c5c5c", "#d0142b"]}, "legend": {"orient": "none", "legendX": 243, "legendY": 152, "direction": "horizontal", "title": null, "labelFont": "DejaVu Serif", "labelFontSize": 10.5, "labelColor": "#111111", "symbolSize": 576, "symbolStrokeWidth": 2.5, "columnPadding": 15, "labelOffset": 4, "padding": 0, "encode": {"symbols": {"update": {"shape": {"signal": "datum.value == 'LESS' ? 'M-1,0H1M0.34,0A0.34,0.34,0,1,1,-0.34,0A0.34,0.34,0,1,1,0.34,0Z' : 'M-1,0H1'"}, "fill": {"signal": "datum.value == 'LESS' ? '#d0142b' : 'transparent'"}, "stroke": {"signal": "datum.value == 'LESS' ? '#d0142b' : '#222222'"}, "strokeDash": {"signal": "datum.value == 'LESS' ? [1,0] : [10,4]"}}}}}}, "strokeDash": {"field": "series", "type": "nominal", "scale": {"domain": ["Fine-tuned Pareto Front", "LESS"], "range": [[5.5, 3], [1, 0]]}, "legend": null}}},
      {"transform": [{"filter": "datum.series == 'LESS'"}], "mark": {"type": "circle", "size": 40, "opacity": 1, "color": "#d0142b", "clip": true}},
      {"transform": [{"filter": "datum.series != 'LESS'"}], "mark": {"type": "line", "strokeWidth": 1.8, "clip": true}, "encoding": {"color": {"field": "series", "type": "nominal", "scale": {"domain": ["Fine-tuned Pareto Front", "LESS"], "range": ["#5c5c5c", "#d0142b"]}}, "strokeDash": {"field": "series", "type": "nominal", "scale": {"domain": ["Fine-tuned Pareto Front", "LESS"], "range": [[5.5, 3], [1, 0]]}, "legend": null}}},
      {"transform": [{"filter": "datum.series == 'LESS' && datum.acc > 25.5"}], "mark": {"type": "text", "fontSize": 6, "font": "DejaVu Serif", "color": "#333333", "dx": 2, "dy": -6.5}, "encoding": {"text": {"field": "label"}}}
     ]},
    {"data": {"values": [
      {"line": 1, "seg": "a", "text": "Figure 14:"},
      {"line": 1, "seg": "b", "text": "Multiple Task-Specific Model Break-Even Analysis"},
      {"line": 1, "seg": "c1", "text": "for"},
      {"line": 1, "seg": "c2", "text": "7B"},
      {"line": 1, "seg": "c3", "text": "IFEval."},
      {"line": 1, "seg": "c4", "text": "Performance"},
      {"line": 1, "seg": "c5", "text": "under"}]},
     "encoding": {"y": {"field": "line", "type": "ordinal", "axis": null, "scale": {"domain": [1, 2], "range": [208, 230], "padding": 0}}, "text": {"field": "text"}},
     "layer": [
      {"transform": [{"filter": "datum.seg == 'a'"}], "mark": {"type": "text", "align": "left", "baseline": "middle", "font": "Liberation Serif", "fontSize": 19.8, "color": "#000000", "dx": -106}},
      {"transform": [{"filter": "datum.seg == 'b'"}], "mark": {"type": "text", "align": "left", "baseline": "middle", "font": "Liberation Serif", "fontSize": 19.6, "fontWeight": "bold", "color": "#000000", "dx": -18.1}},
      {"transform": [{"filter": "datum.seg == 'c1'"}], "mark": {"type": "text", "align": "left", "baseline": "middle", "font": "Liberation Serif", "fontSize": 19.8, "color": "#000000", "dx": 414.1}},
      {"transform": [{"filter": "datum.seg == 'c2'"}], "mark": {"type": "text", "align": "left", "baseline": "middle", "font": "Liberation Serif", "fontSize": 19.8, "color": "#000000", "dx": 442.6}},
      {"transform": [{"filter": "datum.seg == 'c3'"}], "mark": {"type": "text", "align": "left", "baseline": "middle", "font": "Liberation Serif", "fontSize": 19.8, "color": "#000000", "dx": 471.1}},
      {"transform": [{"filter": "datum.seg == 'c4'"}], "mark": {"type": "text", "align": "left", "baseline": "middle", "font": "Liberation Serif", "fontSize": 19.8, "color": "#000000", "dx": 535.3}},
      {"transform": [{"filter": "datum.seg == 'c5'"}], "mark": {"type": "text", "align": "right", "baseline": "middle", "font": "Liberation Serif", "fontSize": 19.8, "color": "#000000", "dx": 687}}
     ]}
   ],
   "resolve": {"scale": {"y": "independent"}, "axis": {"y": "independent"}}},
  {"width": 154, "height": 135, "title": "Number of Tasks = 2",
   "data": {"values": [
    {"series": "LESS", "pct": 2.5, "label": "2.5%", "compute": 4.60e18, "acc": 24.8},
    {"series": "LESS", "pct": 5, "label": "5%", "compute": 4.73e18, "acc": 29.02},
    {"series": "LESS", "pct": 10, "label": "10%", "compute": 4.98e18, "acc": 30.2},
    {"series": "LESS", "pct": 25, "label": "25%", "compute": 5.74e18, "acc": 31.42},
    {"series": "LESS", "pct": 50, "label": "50%", "compute": 7.00e18, "acc": 31.92},
    {"series": "LESS", "pct": 100, "label": "100%", "compute": 9.53e18, "acc": 32.53},
    {"series": "Fine-tuned Pareto Front", "compute": 5.50e17, "acc": 25.5},
    {"series": "Fine-tuned Pareto Front", "compute": 9.77e18, "acc": 33.0}]},
   "encoding": {
    "x": {"field": "compute", "type": "quantitative", "scale": {"type": "log", "domain": [9.77e16, 1.585e19], "nice": false}, "axis": {"title": "Compute (FLOPs)", "values": [1e17,2e17,3e17,4e17,5e17,6e17,7e17,8e17,9e17,1e18,2e18,3e18,4e18,5e18,6e18,7e18,8e18,9e18,1e19], "labelExpr": "datum.value == 1e17 ? '10¹⁷' : datum.value == 1e18 ? '10¹⁸' : datum.value == 1e19 ? '10¹⁹' : ''", "labelOverlap": false, "labelFlush": false, "tickSize": {"condition": {"test": "datum.value == 1e17 || datum.value == 1e18 || datum.value == 1e19", "value": 3.2}, "value": 1.8}}},
    "y": {"field": "acc", "type": "quantitative", "scale": {"domain": [25.5, 33.03], "nice": false, "zero": false}, "axis": {"title": null, "values": [26, 27, 28, 29, 30, 31, 32, 33], "format": "d"}}
   },
   "layer": [
    {"transform": [{"filter": "datum.series == 'LESS'"}], "mark": {"type": "line", "strokeWidth": 2, "clip": true}, "encoding": {"order": {"field": "pct", "type": "quantitative"}, "color": {"field": "series", "type": "nominal", "scale": {"domain": ["Fine-tuned Pareto Front", "LESS"], "range": ["#5c5c5c", "#d0142b"]}, "legend": null}, "strokeDash": {"field": "series", "type": "nominal", "scale": {"domain": ["Fine-tuned Pareto Front", "LESS"], "range": [[5.5, 3], [1, 0]]}, "legend": null}}},
    {"transform": [{"filter": "datum.series == 'LESS'"}], "mark": {"type": "circle", "size": 40, "opacity": 1, "color": "#d0142b", "clip": true}},
    {"transform": [{"filter": "datum.series != 'LESS'"}], "mark": {"type": "line", "strokeWidth": 1.8, "clip": true}, "encoding": {"color": {"field": "series", "type": "nominal", "scale": {"domain": ["Fine-tuned Pareto Front", "LESS"], "range": ["#5c5c5c", "#d0142b"]}, "legend": null}, "strokeDash": {"field": "series", "type": "nominal", "scale": {"domain": ["Fine-tuned Pareto Front", "LESS"], "range": [[5.5, 3], [1, 0]]}, "legend": null}}},
    {"transform": [{"filter": "datum.series == 'LESS' && datum.acc > 25.5"}], "mark": {"type": "text", "fontSize": 6, "font": "DejaVu Serif", "color": "#333333", "dx": 2, "dy": -6.5}, "encoding": {"text": {"field": "label"}}}
   ]},
  {"width": 154, "height": 135, "title": "Number of Tasks = 5",
   "data": {"values": [
    {"series": "LESS", "pct": 2.5, "label": "2.5%", "compute": 1.78e18, "acc": 24.8},
    {"series": "LESS", "pct": 5, "label": "5%", "compute": 1.92e18, "acc": 29.02},
    {"series": "LESS", "pct": 10, "label": "10%", "compute": 2.19e18, "acc": 30.2},
    {"series": "LESS", "pct": 25, "label": "25%", "compute": 2.93e18, "acc": 31.42},
    {"series": "LESS", "pct": 50, "label": "50%", "compute": 4.23e18, "acc": 31.92},
    {"series": "LESS", "pct": 100, "label": "100%", "compute": 6.73e18, "acc": 32.53},
    {"series": "Fine-tuned Pareto Front", "compute": 5.50e17, "acc": 25.5},
    {"series": "Fine-tuned Pareto Front", "compute": 9.77e18, "acc": 33.0}]},
   "encoding": {
    "x": {"field": "compute", "type": "quantitative", "scale": {"type": "log", "domain": [9.77e16, 1.585e19], "nice": false}, "axis": {"title": "Compute (FLOPs)", "values": [1e17,2e17,3e17,4e17,5e17,6e17,7e17,8e17,9e17,1e18,2e18,3e18,4e18,5e18,6e18,7e18,8e18,9e18,1e19], "labelExpr": "datum.value == 1e17 ? '10¹⁷' : datum.value == 1e18 ? '10¹⁸' : datum.value == 1e19 ? '10¹⁹' : ''", "labelOverlap": false, "labelFlush": false, "tickSize": {"condition": {"test": "datum.value == 1e17 || datum.value == 1e18 || datum.value == 1e19", "value": 3.2}, "value": 1.8}}},
    "y": {"field": "acc", "type": "quantitative", "scale": {"domain": [25.5, 33.03], "nice": false, "zero": false}, "axis": {"title": null, "values": [26, 27, 28, 29, 30, 31, 32, 33], "format": "d"}}
   },
   "layer": [
    {"transform": [{"filter": "datum.series == 'LESS'"}], "mark": {"type": "line", "strokeWidth": 2, "clip": true}, "encoding": {"order": {"field": "pct", "type": "quantitative"}, "color": {"field": "series", "type": "nominal", "scale": {"domain": ["Fine-tuned Pareto Front", "LESS"], "range": ["#5c5c5c", "#d0142b"]}, "legend": null}, "strokeDash": {"field": "series", "type": "nominal", "scale": {"domain": ["Fine-tuned Pareto Front", "LESS"], "range": [[5.5, 3], [1, 0]]}, "legend": null}}},
    {"transform": [{"filter": "datum.series == 'LESS'"}], "mark": {"type": "circle", "size": 40, "opacity": 1, "color": "#d0142b", "clip": true}},
    {"transform": [{"filter": "datum.series != 'LESS'"}], "mark": {"type": "line", "strokeWidth": 1.8, "clip": true}, "encoding": {"color": {"field": "series", "type": "nominal", "scale": {"domain": ["Fine-tuned Pareto Front", "LESS"], "range": ["#5c5c5c", "#d0142b"]}, "legend": null}, "strokeDash": {"field": "series", "type": "nominal", "scale": {"domain": ["Fine-tuned Pareto Front", "LESS"], "range": [[5.5, 3], [1, 0]]}, "legend": null}}},
    {"transform": [{"filter": "datum.series == 'LESS' && datum.acc > 25.5"}], "mark": {"type": "text", "fontSize": 6, "font": "DejaVu Serif", "color": "#333333", "dx": 2, "dy": -6.5}, "encoding": {"text": {"field": "label"}}}
   ]},
  {"width": 154, "height": 135, "title": "Number of Tasks = 10",
   "data": {"values": [
    {"series": "LESS", "pct": 2.5, "label": "2.5%", "compute": 1.016e18, "acc": 24.8},
    {"series": "LESS", "pct": 5, "label": "5%", "compute": 1.148e18, "acc": 29.02},
    {"series": "LESS", "pct": 10, "label": "10%", "compute": 1.41e18, "acc": 30.2},
    {"series": "LESS", "pct": 25, "label": "25%", "compute": 2.17e18, "acc": 31.42},
    {"series": "LESS", "pct": 50, "label": "50%", "compute": 3.44e18, "acc": 31.92},
    {"series": "LESS", "pct": 100, "label": "100%", "compute": 5.94e18, "acc": 32.53},
    {"series": "Fine-tuned Pareto Front", "compute": 5.50e17, "acc": 25.5},
    {"series": "Fine-tuned Pareto Front", "compute": 9.77e18, "acc": 33.0}]},
   "encoding": {
    "x": {"field": "compute", "type": "quantitative", "scale": {"type": "log", "domain": [9.77e16, 1.585e19], "nice": false}, "axis": {"title": "Compute (FLOPs)", "values": [1e17,2e17,3e17,4e17,5e17,6e17,7e17,8e17,9e17,1e18,2e18,3e18,4e18,5e18,6e18,7e18,8e18,9e18,1e19], "labelExpr": "datum.value == 1e17 ? '10¹⁷' : datum.value == 1e18 ? '10¹⁸' : datum.value == 1e19 ? '10¹⁹' : ''", "labelOverlap": false, "labelFlush": false, "tickSize": {"condition": {"test": "datum.value == 1e17 || datum.value == 1e18 || datum.value == 1e19", "value": 3.2}, "value": 1.8}}},
    "y": {"field": "acc", "type": "quantitative", "scale": {"domain": [25.5, 33.03], "nice": false, "zero": false}, "axis": {"title": null, "values": [26, 27, 28, 29, 30, 31, 32, 33], "format": "d"}}
   },
   "layer": [
    {"transform": [{"filter": "datum.series == 'LESS'"}], "mark": {"type": "line", "strokeWidth": 2, "clip": true}, "encoding": {"order": {"field": "pct", "type": "quantitative"}, "color": {"field": "series", "type": "nominal", "scale": {"domain": ["Fine-tuned Pareto Front", "LESS"], "range": ["#5c5c5c", "#d0142b"]}, "legend": null}, "strokeDash": {"field": "series", "type": "nominal", "scale": {"domain": ["Fine-tuned Pareto Front", "LESS"], "range": [[5.5, 3], [1, 0]]}, "legend": null}}},
    {"transform": [{"filter": "datum.series == 'LESS'"}], "mark": {"type": "circle", "size": 40, "opacity": 1, "color": "#d0142b", "clip": true}},
    {"transform": [{"filter": "datum.series != 'LESS'"}], "mark": {"type": "line", "strokeWidth": 1.8, "clip": true}, "encoding": {"color": {"field": "series", "type": "nominal", "scale": {"domain": ["Fine-tuned Pareto Front", "LESS"], "range": ["#5c5c5c", "#d0142b"]}, "legend": null}, "strokeDash": {"field": "series", "type": "nominal", "scale": {"domain": ["Fine-tuned Pareto Front", "LESS"], "range": [[5.5, 3], [1, 0]]}, "legend": null}}},
    {"transform": [{"filter": "datum.series == 'LESS' && datum.acc > 25.5"}], "mark": {"type": "text", "fontSize": 6, "font": "DejaVu Serif", "color": "#333333", "dx": 2, "dy": -6.5}, "encoding": {"text": {"field": "label"}}}
   ]}
]
}
